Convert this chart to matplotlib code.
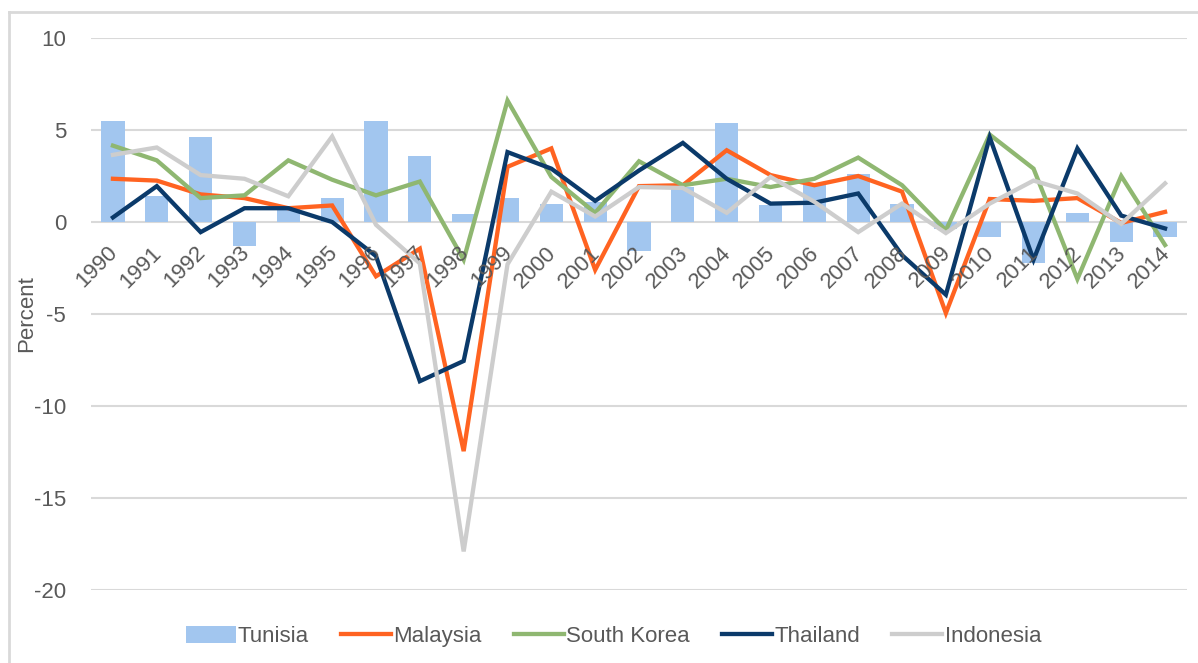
import matplotlib
matplotlib.use("Agg")
import matplotlib.pyplot as plt
from matplotlib.patches import Patch
from matplotlib.lines import Line2D
import numpy as np

plt.rcParams['font.family'] = ['Liberation Sans', 'DejaVu Sans']
plt.rcParams['axes.unicode_minus'] = False

years = [str(y) for y in range(1990, 2015)]

tunisia = [5.5, 1.4, 4.6, -1.3, 0.7, 1.3, 5.5, 3.6, 0.45, 1.3, 1.0, 1.1, -1.6, 1.9, 5.4,
           0.9, 2.1, 2.6, 1.0, -0.4, -0.8, -2.25, 0.5, -1.1, -0.8]
malaysia = [2.35, 2.25, 1.5, 1.3, 0.75, 0.9, -2.95, -1.45, -12.45, 3.0, 4.0, -2.6, 1.95, 2.0, 3.9,
            2.55, 2.0, 2.5, 1.65, -4.95, 1.25, 1.15, 1.3, -0.05, 0.55]
south_korea = [4.15, 3.35, 1.3, 1.45, 3.35, 2.3, 1.45, 2.2, -2.05, 6.6, 2.45, 0.5, 3.3, 2.0, 2.35,
               1.9, 2.35, 3.5, 2.0, -0.45, 4.75, 2.9, -3.1, 2.5, -1.25]
thailand = [0.25, 1.95, -0.55, 0.75, 0.75, 0.0, -1.85, -8.65, -7.55, 3.8, 2.9, 1.15, 2.8, 4.3, 2.35,
            1.0, 1.05, 1.55, -1.8, -3.95, 4.6, -2.05, 4.0, 0.35, -0.35]
indonesia = [3.65, 4.05, 2.55, 2.35, 1.4, 4.65, -0.15, -2.25, -17.9, -2.3, 1.65, 0.3, 1.9, 1.85, 0.5,
             2.45, 1.1, -0.55, 1.0, -0.6, 1.0, 2.25, 1.55, -0.1, 2.1]

c_tun = '#A2C6EF'
c_mal = '#FF6321'
c_kor = '#8FB771'
c_tha = '#0B3A6A'
c_ind = '#CDCDCD'
txt = '#595959'

fig = plt.figure(figsize=(11.98, 6.63), dpi=100)
ax = fig.add_axes([0.076, 0.110, 0.9148, 0.8327])

x = np.arange(len(years))
ax.bar(x, tunisia, width=0.53, color=c_tun, zorder=2)
ax.plot(x, malaysia, color=c_mal, lw=3.1, zorder=3, solid_joinstyle='miter')
ax.plot(x, south_korea, color=c_kor, lw=3.1, zorder=4, solid_joinstyle='miter')
ax.plot(x, thailand, color=c_tha, lw=3.1, zorder=5, solid_joinstyle='miter')
ax.plot(x, indonesia, color=c_ind, lw=3.1, zorder=6, solid_joinstyle='miter')

ax.set_xlim(-0.5, len(years) - 0.5)
ax.set_ylim(-20, 10)
ax.set_yticks([10, 5, 0, -5, -10, -15, -20])
ax.yaxis.grid(True, color='#D9D9D9', lw=1.5, zorder=0)
ax.set_axisbelow(True)
for s in ax.spines.values():
    s.set_visible(False)
ax.tick_params(axis='both', length=0, colors=txt, labelsize=16)
ax.tick_params(axis='y', pad=18)

ax.set_xticks(x)
ax.set_xticklabels([])
for i, yr in enumerate(years):
    ax.text(i - 0.13, -1.1, yr, rotation=45, rotation_mode='anchor', ha='right', va='top',
            fontsize=16, color=txt, zorder=7)

ax.set_ylabel('Percent', fontsize=16, color=txt)
ax.yaxis.set_label_coords(-0.049, 0.5)

handles = [
    Patch(facecolor=c_tun, edgecolor='none'),
    Line2D([], [], color=c_mal, lw=3.1),
    Line2D([], [], color=c_kor, lw=3.1),
    Line2D([], [], color=c_tha, lw=3.1),
    Line2D([], [], color=c_ind, lw=3.1),
]
labels = ['Tunisia', 'Malaysia', 'South Korea', 'Thailand', 'Indonesia']
fig.legend(handles, labels, loc='center', bbox_to_anchor=(0.512, 0.040), ncol=5,
           frameon=False, fontsize=16, handlelength=2.25, handleheight=0.8,
           handletextpad=0.1, columnspacing=1.45, labelcolor=txt)

# light grey chart border (left and top edges only are visible)
fig.add_artist(Line2D([9 / 1198, 9 / 1198], [0, (663 - 12) / 663], transform=fig.transFigure,
                      color='#D9D9D9', lw=2))
fig.add_artist(Line2D([9 / 1198, 1], [(663 - 12) / 663, (663 - 12) / 663],
                      transform=fig.transFigure, color='#D9D9D9', lw=2))

fig.savefig('out.png', dpi=100)
